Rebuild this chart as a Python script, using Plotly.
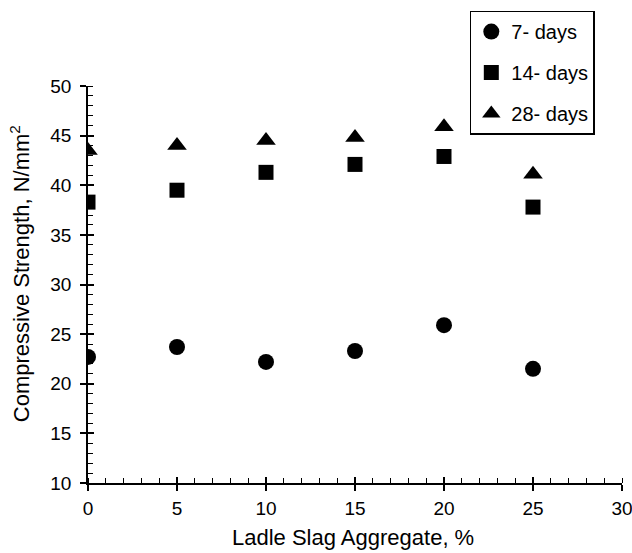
import plotly.graph_objects as go

slag_pct = [0, 5, 10, 15, 20, 25]
days7 = [22.7, 23.7, 22.2, 23.3, 25.9, 21.5]
days14 = [38.3, 39.5, 41.3, 42.1, 42.9, 37.8]
days28 = [43.5, 44.0, 44.5, 44.8, 45.9, 41.1]
series_names = ["7- days", "14- days", "28- days"]
x_title = "Ladle Slag Aggregate, %"
y_title = "Compressive Strength, N/mm<sup>2</sup>"

FONT = "Liberation Sans, Arial, sans-serif"

fig = go.Figure()
fig.add_trace(go.Scatter(x=slag_pct, y=days7, mode="markers", name=series_names[0],
                         legendgroup="a",
                         marker=dict(symbol="circle", size=16, color="black")))
fig.add_trace(go.Scatter(x=slag_pct, y=days14, mode="markers", name=series_names[1],
                         legendgroup="b",
                         marker=dict(symbol="square", size=15, color="black")))
fig.add_trace(go.Scatter(x=slag_pct, y=days28, mode="markers", name=series_names[2],
                         legendgroup="c",
                         marker=dict(symbol="triangle-up", size=17, color="black")))
# invisible trace to activate overlay axes (inner half of crossing ticks)
fig.add_trace(go.Scatter(x=[0], y=[10], xaxis="x2", yaxis="y2", mode="markers",
                         marker=dict(opacity=0), showlegend=False, hoverinfo="skip"))

fig.update_layout(
    width=632, height=553,
    margin=dict(l=88, r=10, t=83, b=70),
    paper_bgcolor="white", plot_bgcolor="white",
    font=dict(family=FONT, color="black", size=19),
    showlegend=True,
    legend=dict(x=0.715, xanchor="left", y=1.19, yanchor="top",
                bordercolor="black", borderwidth=1.5, bgcolor="white",
                font=dict(size=20), tracegroupgap=12,
                itemwidth=30),
    xaxis=dict(range=[0, 30], tickmode="linear", tick0=0, dtick=5, automargin=False,
               showline=True, linecolor="black", linewidth=1.5,
               ticks="outside", ticklen=6, tickwidth=1.5, tickcolor="black",
               minor=dict(ticks="inside", dtick=1, ticklen=5, tickwidth=1.2, tickcolor="black"),
               showgrid=False, zeroline=False, tickfont=dict(size=19),
               ticklabeloverflow="allow", ticklabelstandoff=1),
    yaxis=dict(range=[10, 50], tickmode="linear", tick0=10, dtick=5, automargin=False,
               showline=True, linecolor="black", linewidth=1.5,
               ticks="outside", ticklen=6, tickwidth=1.5, tickcolor="black",
               minor=dict(ticks="inside", dtick=1, ticklen=5, tickwidth=1.2, tickcolor="black"),
               showgrid=False, zeroline=False, tickfont=dict(size=19),
               ticklabeloverflow="allow", ticklabelstandoff=5),
    xaxis2=dict(range=[0, 30], overlaying="x", anchor="y2", tickmode="linear", tick0=0, dtick=5,
                ticks="inside", ticklen=6, tickwidth=1.5, tickcolor="black", automargin=False,
                showticklabels=False, showline=False, showgrid=False, zeroline=False),
    yaxis2=dict(range=[10, 50], overlaying="y", anchor="x2", tickmode="linear", tick0=10, dtick=5,
                ticks="inside", ticklen=6, tickwidth=1.5, tickcolor="black", automargin=False,
                showticklabels=False, showline=False, showgrid=False, zeroline=False),
    annotations=[
        dict(text=x_title, xref="paper", yref="paper", x=0.496, y=-0.137,
             xanchor="center", yanchor="middle", showarrow=False, font=dict(size=22)),
        dict(text=y_title, xref="paper", yref="paper", x=-0.128, y=0.5275,
             xanchor="center", yanchor="middle", showarrow=False, textangle=-90,
             font=dict(size=22)),
    ],
)

fig.write_html("out.html", config={"displayModeBar": False},
               post_script="document.body.style.margin='0px';")
